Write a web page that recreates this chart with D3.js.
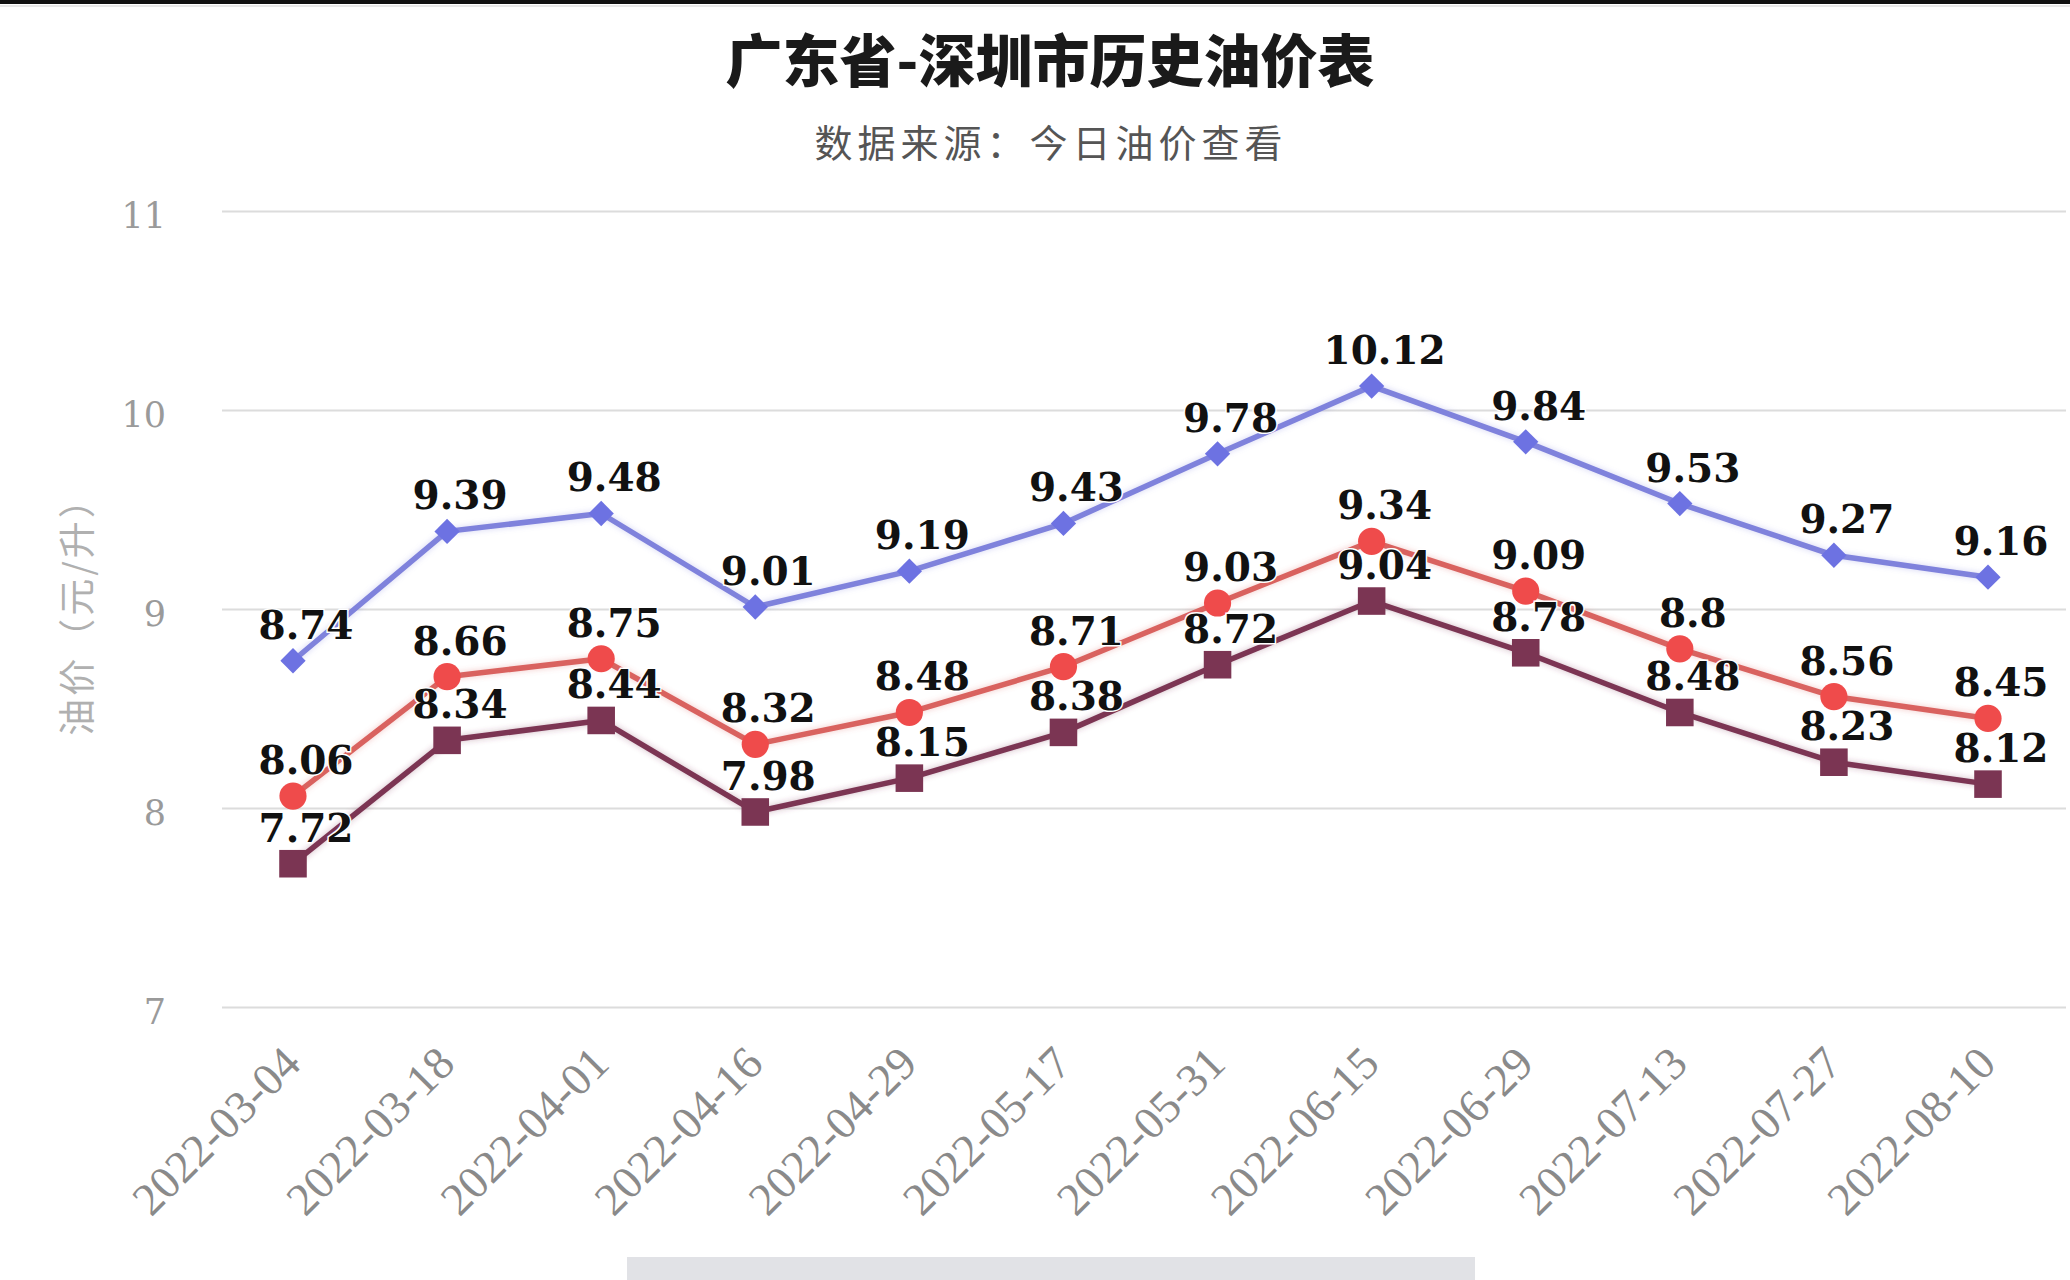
<!DOCTYPE html>
<html><head><meta charset="utf-8">
<script src="https://cdn.jsdelivr.net/npm/d3@7/dist/d3.min.js"></script>
<style>html,body{margin:0;padding:0;background:#fff;}svg{display:block;}</style>
</head><body>
<script>
const categories = ["2022-03-04","2022-03-18","2022-04-01","2022-04-16","2022-04-29","2022-05-17","2022-05-31","2022-06-15","2022-06-29","2022-07-13","2022-07-27","2022-08-10"];
const price95 = [8.74, 9.39, 9.48, 9.01, 9.19, 9.43, 9.78, 10.12, 9.84, 9.53, 9.27, 9.16];
const price92 = [8.06, 8.66, 8.75, 8.32, 8.48, 8.71, 9.03, 9.34, 9.09, 8.8, 8.56, 8.45];
const price0  = [7.72, 8.34, 8.44, 7.98, 8.15, 8.38, 8.72, 9.04, 8.78, 8.48, 8.23, 8.12];
const yTicks = [7, 8, 9, 10, 11];
const titleText = "广东省-深圳市历史油价表";
const subtitleText = "数据来源：今日油价查看";
const yTitle = "油价（元/升）";

const W = 2070, H = 1280;
const svg = d3.select("body").append("svg").attr("width", W).attr("height", H);

const defs = svg.append("defs");
const f = defs.append("filter").attr("id","glow").attr("x","-10%").attr("y","-10%").attr("width","120%").attr("height","120%");
f.append("feGaussianBlur").attr("in","SourceGraphic").attr("stdDeviation",3).attr("result","b");
f.append("feComponentTransfer").attr("in","b").attr("result","b2").append("feFuncA").attr("type","linear").attr("slope",0.35);
const fm = f.append("feMerge");
fm.append("feMergeNode").attr("in","b2");
fm.append("feMergeNode").attr("in","SourceGraphic");

// top bar
svg.append("rect").attr("x",0).attr("y",0).attr("width",W).attr("height",4).attr("fill","#111");
svg.append("rect").attr("x",0).attr("y",5).attr("width",W).attr("height",2).attr("fill","#e8e8e8");

const x = d3.scalePoint().domain(categories).range([293, 1988]);
const y = d3.scaleLinear().domain([7, 11]).range([1007, 211]);

// gridlines
const grid = svg.append("g").attr("transform","translate(222,0)")
  .call(d3.axisLeft(y).tickValues(yTicks).tickSize(-(2066-222)).tickFormat(""));
grid.select(".domain").remove();
grid.selectAll("line").attr("stroke","#dcdcdc").attr("stroke-width",2);

// y tick labels
svg.append("g").selectAll("text").data(yTicks).join("text")
  .attr("x",166).attr("y",d=>y(d)+4).attr("dy","0.36em")
  .attr("text-anchor","end")
  .attr("font-family","DejaVu Serif").attr("font-size",35).attr("fill","#9a9a9a")
  .text(d=>d);

// y axis title
svg.append("text").attr("transform","translate(75,607) rotate(-90)")
  .attr("text-anchor","middle").attr("dominant-baseline","central")
  .attr("font-family","Noto Sans CJK SC").attr("font-size",37).attr("letter-spacing",3).attr("fill","#b0b0b0")
  .text(yTitle);

// x labels
svg.append("g").selectAll("text").data(categories).join("text")
  .attr("transform",d=>`translate(${x(d)+10},1066) rotate(-45)`)
  .attr("text-anchor","end")
  .attr("font-family","Liberation Serif").attr("font-size",46).attr("fill","#8a8a8a")
  .text(d=>d);

// title
svg.append("text").attr("x",1050).attr("y",57).attr("text-anchor","middle").attr("dominant-baseline","central")
  .attr("font-family","Noto Sans CJK SC").attr("font-weight","900").attr("font-size",57).attr("fill","#1a1a1a")
  .text(titleText);
svg.append("text").attr("x",1051).attr("y",140).attr("text-anchor","middle").attr("dominant-baseline","central")
  .attr("font-family","Noto Sans CJK SC").attr("font-size",38).attr("letter-spacing",5).attr("fill","#555")
  .text(subtitleText);

const diamond = {draw(ctx, size){const s=Math.sqrt(size)*Math.SQRT1_2; ctx.moveTo(0,-s);ctx.lineTo(s,0);ctx.lineTo(0,s);ctx.lineTo(-s,0);ctx.closePath();}};
const series = [
  {name:"95", values:price95, line:"#7f82dc", mark:"#6d72e2", shape:diamond, size:320},
  {name:"0", values:price0, line:"#7b3553", mark:"#7b3553", shape:d3.symbolSquare, size:760},
  {name:"92", values:price92, line:"#d9625f", mark:"#ef4b4b", shape:d3.symbolCircle, size:580},
];
const line = d3.line().x((d,i)=>x(categories[i])).y(d=>y(d));

series.forEach(s=>{
  svg.append("path").datum(s.values).attr("d",line)
    .attr("fill","none").attr("stroke",s.line).attr("stroke-width",5.5).attr("stroke-linejoin","round")
    .attr("filter","url(#glow)");
});
series.forEach(s=>{
  svg.append("g").selectAll("path").data(s.values).join("path")
    .attr("transform",(d,i)=>`translate(${x(categories[i])},${y(d)})`)
    .attr("d",d3.symbol().type(s.shape).size(s.size)).attr("fill",s.mark);
});
series.forEach(s=>{
  svg.append("g").selectAll("text").data(s.values).join("text")
    .attr("x",(d,i)=>x(categories[i])+13).attr("y",d=>y(d)-22)
    .attr("text-anchor","middle")
    .attr("font-family","DejaVu Serif").attr("font-weight","bold").attr("font-size",39).attr("fill","#111")
    .attr("stroke","#fff").attr("stroke-width",3).attr("paint-order","stroke")
    .text(d=>d);
});

// bottom gray box
svg.append("rect").attr("x",627).attr("y",1257).attr("width",848).attr("height",23).attr("fill","#e1e2e6");
</script>
</body></html>
